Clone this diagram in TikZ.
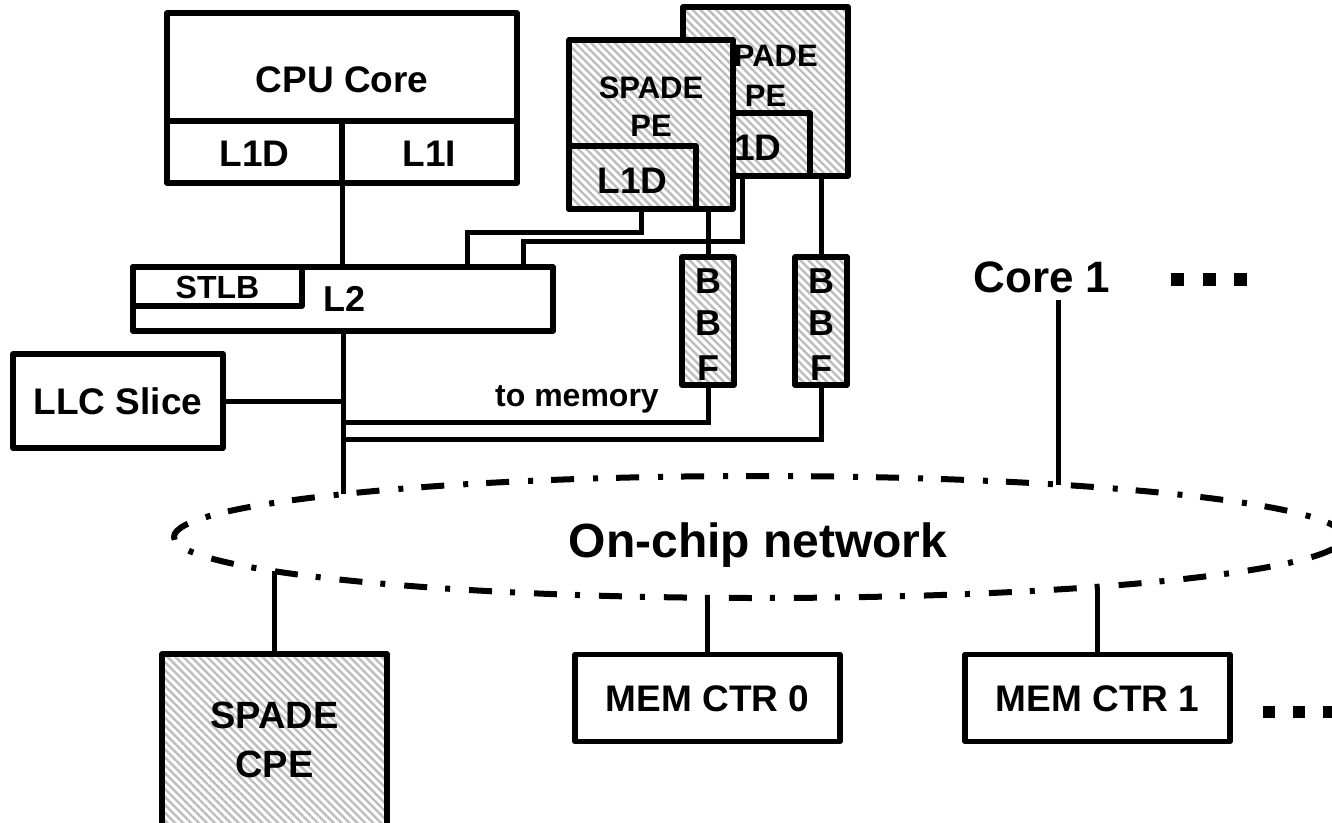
\documentclass[tikz,border=0pt]{standalone}
\usepackage{fontspec}
\setmainfont{Liberation Sans}
\usetikzlibrary{patterns.meta,shapes.geometric}
\begin{document}
\begin{tikzpicture}[x=1pt,y=-1pt,
  box/.style={draw, line width=5.5pt, rectangle, inner sep=0pt, outer sep=0pt, line join=round},
  hatch/.style={preaction={fill=white}, pattern={Lines[angle=-45,distance=5.6pt,line width=2.4pt]}, pattern color=black!26},
  wire/.style={line width=5pt},
  lbl/.style={anchor=base, inner sep=0pt, outer sep=0pt, font=\bfseries\fontsize{#1}{#1}\selectfont},
  dotsq/.style={fill=black, rectangle, inner sep=0pt, outer sep=0pt, minimum size=13pt},
  netline/.style={line width=6pt, dash pattern=on 23pt off 18pt on 5pt off 19pt}
]
\useasboundingbox (0,0) rectangle (1332,822);
\clip (0,0) rectangle (1332,822);

% CPU core
\node[box, minimum width=350pt, minimum height=108pt] (cpu) at (342,67) {};
\node[box, minimum width=175pt, minimum height=62pt] (l1d) at (254.5,152) {};
\node[box, minimum width=175pt, minimum height=62pt] (l1i) at (429.5,152) {};
\node[lbl=37] (tcpu) at (342,92) {CPU Core};
\node[lbl=37] (tl1d) at (254.5,166) {L1D};
\node[lbl=37] (tl1i) at (429.5,166) {L1I};

% L2 and STLB
\node[box, minimum width=420pt, minimum height=64pt] (l2) at (343,299) {};
\node[box, minimum width=169pt, minimum height=39pt] (stlb) at (217.5,286.5) {};
\node[lbl=32] (tstlb) at (217.5,298.5) {STLB};
\node[lbl=36] (tl2) at (345,311) {L2};

% LLC slice
\node[box, minimum width=210pt, minimum height=94pt] (llc) at (118,401) {};
\node[lbl=37] (tllc) at (118,414.5) {LLC Slice};

% back SPADE PE
\node[box, hatch, minimum width=165pt, minimum height=169pt] (bpe) at (765.5,91.5) {};
\node[box, minimum width=127pt, minimum height=63pt] (bl1d) at (746.5,144.5) {};
\node[lbl=31] (tbs) at (765.5,66) {SPADE};
\node[lbl=31] (tbp) at (765.5,106) {PE};
\node[lbl=37] (tbl) at (746.5,160) {L1D};

% front SPADE PE
\node[box, hatch, minimum width=164pt, minimum height=169pt] (fpe) at (651,124.5) {};
\node[box, minimum width=127pt, minimum height=63pt] (fl1d) at (632.5,177.5) {};
\node[lbl=31] (tfs) at (651,98.5) {SPADE};
\node[lbl=31] (tfp) at (651,136.5) {PE};
\node[lbl=37] (tfl) at (632.5,193) {L1D};

% BBF boxes
\node[box, hatch, minimum width=52pt, minimum height=128pt] (bbf1) at (708,321) {};
\node[box, hatch, minimum width=52pt, minimum height=128pt] (bbf2) at (821,321) {};
\foreach \bx/\nm in {708/a,821/b}{
  \node[lbl=36] (\nm1) at (\bx,293) {B};
  \node[lbl=36] (\nm2) at (\bx,335) {B};
  \node[lbl=36] (\nm3) at (\bx,380) {F};
}
\node[lbl=32] (tmem) at (577,406) {to memory};

% network
\node[ellipse, draw, netline, minimum width=1170pt, minimum height=122pt, inner sep=0pt, outer sep=0pt] (net) at (759,537) {};
\node[lbl=48] (tnet) at (758,557) {On-chip network};

% Core 1
\node[lbl=44] (core1) at (1042,292) {Core 1};
\node[dotsq] (d1) at (1177,279) {};
\node[dotsq] (d2) at (1209,279) {};
\node[dotsq] (d3) at (1240,279) {};

% bottom boxes
\node[box, hatch, minimum width=225pt, minimum height=180pt] (cpe) at (274.5,744) {};
\node[lbl=38] (tcs) at (274.5,728.5) {SPADE};
\node[lbl=38] (tcc) at (274.5,777) {CPE};
\node[box, minimum width=265pt, minimum height=87pt] (mem0) at (707.5,698) {};
\node[box, minimum width=265pt, minimum height=87pt] (mem1) at (1097.5,698) {};
\node[lbl=37] (tm0) at (707.5,711.5) {MEM CTR 0};
\node[lbl=37] (tm1) at (1097.5,711.5) {MEM CTR 1};
\node[dotsq, minimum size=12pt] (d4) at (1269,712) {};
\node[dotsq, minimum size=12pt] (d5) at (1299,712) {};
\node[dotsq, minimum size=12pt] (d6) at (1329,712) {};

% junction coordinates
\coordinate (n1) at (343,494);
\coordinate (n2) at (1058,485);
\coordinate (c1b) at (1058,300);
\coordinate (n3) at (274.5,571);
\coordinate (n4) at (707.5,598);
\coordinate (n5) at (1097.5,587);
\coordinate (j1) at (343,422);
\coordinate (j2) at (343,439);

% connectors
\draw[wire] (l1d.south east) -- (l1d.south east |- l2.north);
\draw[wire] (l2.south) -- (n1);
\draw[wire] (llc.east) -- (llc.east -| l2.south);
\draw[wire] (bbf1.south) |- (j1);
\draw[wire] (bbf2.south) |- (j2);
\draw[wire] (fl1d.south -| 641,0) |- (467,232) -- (l2.north -| 467,0);
\draw[wire] (bl1d.south -| 742,0) |- (523,241) -- (l2.north -| 523,0);
\draw[wire] (fpe.south -| bbf1.north) -- (bbf1.north);
\draw[wire] (bpe.south -| bbf2.north) -- (bbf2.north);
\draw[wire] (c1b) -- (n2);
\draw[wire] (n3) -- (cpe.north);
\draw[wire] (n4) -- (mem0.north);
\draw[wire] (n5) -- (mem1.north);
\end{tikzpicture}
\end{document}
